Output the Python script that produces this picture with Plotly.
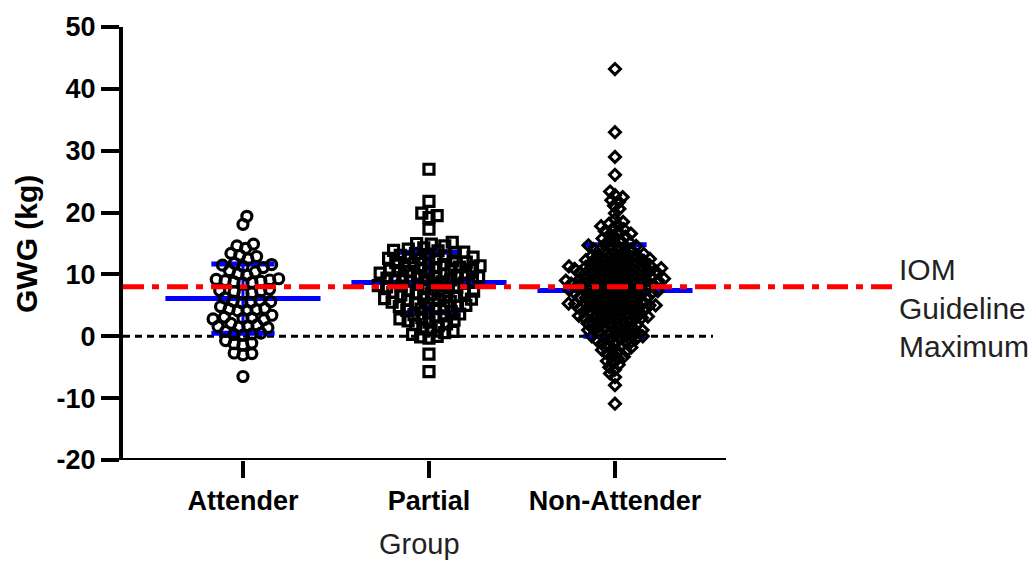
import math
import plotly.graph_objects as go

# ---------------- data ----------------
groups = ["Attender", "Partial", "Non-Attender"]

attender = [19.4, 18.1, 14.9, 14.6, 14.2, 13.4, 13.1, 12.9, 12.5, 11.8, 11.5,
            11.3, 11.6, 11.1, 10.4, 10.1, 9.9, 10.6, 9.2, 9.0, 8.9, 8.7, 8.6,
            9.1, 8.8, 9.3, 7.4, 7.2, 7.0, 7.3, 6.9, 7.6, 5.8, 5.6, 5.5, 5.7,
            5.4, 6.2, 4.4, 4.3, 4.1, 4.5, 4.2, 4.8, 3.0, 2.9, 2.7, 3.1, 2.8,
            3.4, 1.7, 1.6, 1.4, 1.8, 1.5, 2.1, 0.4, 0.3, 0.2, 0.5, 0.8, -1.2,
            -1.4, -1.1, -0.7, -2.8, -3.0, -2.7, -6.5]

partial = [27.0, 21.8, 19.9, 19.5, 19.2, 17.3,
           14.9, 15.2, 14.6, 14.3, 15.0, 14.1,
           13.8, 13.5, 13.9, 13.2, 13.6, 13.1, 13.4,
           12.8, 12.5, 12.9, 12.2, 12.6, 12.0, 12.4, 12.7,
           11.8, 11.5, 11.9, 11.2, 11.6, 11.0, 11.4, 11.7, 11.1,
           10.9, 10.5, 10.8, 10.2, 10.6, 10.0, 10.4, 10.7, 10.1,
           9.8, 9.5, 9.9, 9.2, 9.6, 9.0, 9.4, 9.7, 9.1,
           8.9, 8.5, 8.8, 8.2, 8.6, 8.0, 8.4, 8.7, 8.1,
           7.8, 7.4, 7.9, 7.1, 7.6, 7.0, 7.3, 7.7,
           6.9, 6.5, 6.8, 6.1, 6.6, 6.0, 6.3, 6.7,
           5.8, 5.4, 5.9, 5.0, 5.6, 5.2, 5.5,
           4.9, 4.4, 4.7, 4.0, 4.5, 4.2, 4.8,
           3.8, 3.3, 3.6, 3.0, 3.5, 3.1,
           2.8, 2.3, 2.6, 2.0, 2.5,
           1.7, 1.2, 1.9, 1.0,
           0.8, 0.3, 0.6, 0.0,
           -0.3, -0.1,
           -2.9, -5.7]

non_attender = [43.2, 33.0, 29.0, 26.1,
                23.4, 22.8, 22.5, 22.0, 21.7, 21.1, 20.6, 19.9,
                18.9, 18.5, 18.2, 18.0, 17.8, 17.4, 17.3, 17.0,
                16.9, 16.6, 16.5, 16.1, 16.0, 15.8, 15.5, 15.4, 15.1, 15.0,
                14.9, 14.7, 14.6, 14.4, 14.2, 14.1, 14.0, 13.8, 13.6, 13.5,
                13.3, 13.2, 13.0, 13.0, 14.5, 13.9,
                12.9, 12.8, 12.6, 12.5, 12.5, 12.3, 12.2, 12.0, 12.0, 11.9,
                11.8, 11.6, 11.5, 11.5, 11.4, 11.2, 11.1, 11.0, 11.0, 11.0,
                12.7, 12.4, 12.1, 11.7, 11.3, 11.0,
                10.9, 10.8, 10.6, 10.5, 10.5, 10.4, 10.2, 10.1, 10.0, 10.0,
                9.9, 9.8, 9.7, 9.5, 9.5, 9.4, 9.3, 9.2, 9.1, 9.0, 9.0, 9.0,
                10.7, 10.3, 10.0, 9.6, 9.2, 9.0, 10.9, 10.5,
                8.9, 8.8, 8.6, 8.5, 8.5, 8.3, 8.2, 8.1, 8.0, 8.0, 7.9, 7.8,
                7.6, 7.5, 7.5, 7.4, 7.3, 7.2, 7.1, 7.0, 7.0, 7.0,
                8.7, 8.4, 8.0, 7.7, 7.3, 7.0, 8.9, 8.2,
                6.9, 6.8, 6.6, 6.5, 6.4, 6.3, 6.2, 6.0, 6.0, 5.9, 5.8, 5.6,
                5.5, 5.5, 5.3, 5.2, 5.1, 5.0, 5.0, 5.0,
                6.7, 6.1, 5.7, 5.4, 5.0, 6.4, 5.2,
                4.9, 4.7, 4.6, 4.5, 4.3, 4.2, 4.0, 4.0, 3.9, 3.8, 3.6, 3.5,
                3.4, 3.2, 3.1, 3.0, 3.0, 3.0,
                4.8, 4.4, 4.1, 3.7, 3.3, 3.0, 4.5,
                2.9, 2.7, 2.5, 2.4, 2.2, 2.0, 2.0, 1.8, 1.6, 1.5, 1.3, 1.1,
                1.0, 1.0, 1.0, 2.6, 2.1, 1.7, 1.2,
                0.8, 0.6, 0.5, 0.3, 0.1, 0.0, 0.0, -0.2, -0.4, -0.5, -0.6,
                -0.8, -0.9, -1.0, 0.7, 0.2, -0.3,
                -1.2, -1.5, -1.8, -2.0, -2.2, -2.5, -2.8, -3.0, -1.6, -2.4,
                -3.3, -3.6, -4.0, -4.2, -4.6, -5.0,
                -5.4, -6.0, -6.6,
                -7.9, -10.9]

group_means = [6.1, 8.7, 7.4]
group_sds = [5.6, 4.9, 7.4]

iom_max = 8.0
y_ticks = [-20, -10, 0, 10, 20, 30, 40, 50]
y_tick_text = ["-20", "-10", "0", "10", "20", "30", "40", "50"]

# ---------------- layout geometry ----------------
W, H = 1036, 565
ML, MR, MT, MB = 123, 141, 23, 105
PW, PH = W - ML - MR, H - MT - MB
X0 = 0.355
X1 = X0 + PW / 186.0
Y0, Y1 = -20, 50
px_x = PW / (X1 - X0)
px_y = PH / (Y1 - Y0)


def swarm(vals, diam):
    """Beeswarm offsets (data units) computed from values."""
    order = sorted(range(len(vals)), key=lambda i: vals[i])
    placed = []
    offs = [0.0] * len(vals)
    side = 1
    for i in order:
        y = vals[i] * px_y
        cands = [0.0]
        for xj, yj in placed:
            dy = y - yj
            if abs(dy) < diam:
                dx = math.sqrt(diam * diam - dy * dy)
                cands += [xj + dx, xj - dx]
        cands.sort(key=lambda c: (round(abs(c), 3), -side * c))
        for c in cands:
            if all((c - xj) ** 2 + (y - yj) ** 2 >= diam * diam - 1e-6
                   for xj, yj in placed):
                break
        placed.append((c, y))
        offs[i] = c / px_x
        side = -side
    return offs


fig = go.Figure()

# mean and SD lines (behind the points)
for k, (m, s) in enumerate(zip(group_means, group_sds)):
    cx = k + 1
    fig.add_trace(go.Scatter(x=[cx - 0.417, cx + 0.417], y=[m, m], mode="lines",
                             line=dict(color="#0000FF", width=5), hoverinfo="skip"))
    for v in (m - s, m + s):
        fig.add_trace(go.Scatter(x=[cx - 0.17, cx + 0.17], y=[v, v], mode="lines",
                                 line=dict(color="#0000FF", width=5), hoverinfo="skip"))
    fig.add_trace(go.Scatter(x=[cx, cx], y=[m - s, m + s], mode="lines",
                             line=dict(color="#0000FF", width=3), hoverinfo="skip"))

series = [(attender, "circle-open", 10, 3.2, 9.0),
          (partial, "square-open", 10, 3.2, 8.4),
          (non_attender, "diamond-open", 8.5, 3.0, 6.2)]
for k, (vals, sym, size, lw, diam) in enumerate(series):
    offs = swarm(vals, diam)
    fig.add_trace(go.Scatter(
        x=[k + 1 + o for o in offs], y=vals, mode="markers", name=groups[k],
        marker=dict(symbol=sym, size=size, color="black",
                    line=dict(color="black", width=lw)),
        cliponaxis=False))

# IOM guideline maximum line (on top)
fig.add_trace(go.Scatter(x=[X0, X1], y=[iom_max, iom_max], mode="lines",
                         line=dict(color="#FF0000", width=5, dash="21px,8px,7px,8px"),
                         hoverinfo="skip", cliponaxis=False))

x_axis_end = 1 + (725 - 242) / 186.0
zero_end = 1 + (712 - 242) / 186.0
fig.add_shape(type="line", x0=X0, x1=zero_end, y0=0, y1=0, layer="below",
              line=dict(color="black", width=3, dash="7px,5px"))
fig.add_shape(type="line", x0=X0 - 0.012, x1=x_axis_end, y0=Y0, y1=Y0, layer="above",
              line=dict(color="black", width=4))

fig.update_layout(
    width=W, height=H, margin=dict(l=ML, r=MR, t=MT, b=MB),
    paper_bgcolor="white", plot_bgcolor="white", showlegend=False,
    font=dict(family="Liberation Sans, Arial, sans-serif", color="black"),
    xaxis=dict(range=[X0, X1], showgrid=False, zeroline=False, showline=False,
               tickmode="array", tickvals=[1, 2, 3], ticktext=groups,
               ticks="outside", ticklen=17, tickwidth=4, tickcolor="black",
               tickfont=dict(size=27, family="Liberation Sans, Arial, sans-serif",
                             color="black", weight="bold")),
    yaxis=dict(range=[Y0, Y1], showgrid=False, zeroline=False, showline=True,
               linecolor="black", linewidth=4, tickmode="array", tickvals=y_ticks,
               ticktext=y_tick_text,
               ticks="outside", ticklen=18, tickwidth=4, tickcolor="black",
               tickfont=dict(size=27, family="Liberation Sans, Arial, sans-serif",
                             color="black", weight="bold")),
)


def px2paper(px, py):
    return (px - ML) / PW, (H - MB - py) / PH


ax, ay = px2paper(27, 242)
fig.add_annotation(text="<b>GWG (kg)</b>", x=ax, y=ay, xref="paper", yref="paper",
                   textangle=-90, showarrow=False, xanchor="center", yanchor="middle",
                   font=dict(size=30, color="black"))
gx, gy = px2paper(419, 545)
fig.add_annotation(text="Group", x=gx, y=gy, xref="paper", yref="paper",
                   showarrow=False, xanchor="center", yanchor="middle",
                   font=dict(size=29, color="#222222"))
for txt, py in (("IOM", 268), ("Guideline", 307), ("Maximum", 345)):
    tx, ty = px2paper(897, py)
    fig.add_annotation(text=txt, x=tx, y=ty, xref="paper", yref="paper",
                       showarrow=False, xanchor="left", yanchor="middle",
                       font=dict(size=30, color="#222222"))

fig.write_html("out.html")
